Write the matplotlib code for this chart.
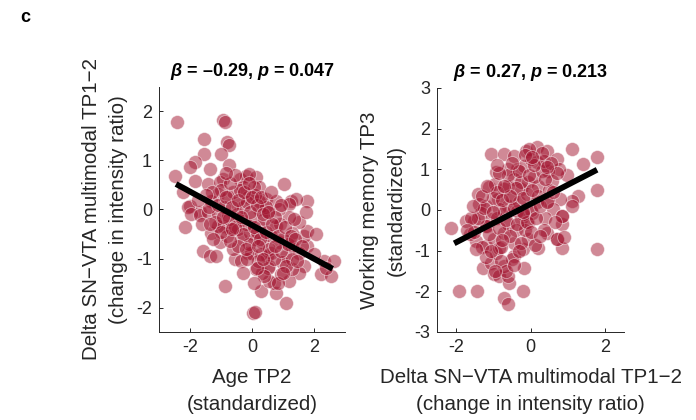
import matplotlib
matplotlib.use("Agg")
import matplotlib.pyplot as plt
import numpy as np

plt.rcParams['font.family'] = ['Liberation Sans', 'DejaVu Sans']
plt.rcParams['mathtext.fontset'] = 'custom'
plt.rcParams['mathtext.it'] = 'Liberation Sans:italic:bold'
plt.rcParams['mathtext.rm'] = 'Liberation Sans:bold'
plt.rcParams['mathtext.bf'] = 'Liberation Sans:bold'

# ---------------- Panel 1: Age TP2 vs Delta SN-VTA ----------------
age_x = [-2.42, -0.94, -0.88, -1.56, -0.81, -0.73, -1.56, -0.99, -1.83, -1.99,
         -1.36, -0.75, -2.49, -1.85, -0.94, -0.40, -0.18, -0.29, -1.42, -1.04,
         -2.23, -2.01, -1.69, -1.10, -0.77, -0.51, -0.13, -1.31,
         0.12, 0.23, 1.03, 1.78, 1.25, 1.41, -0.10, 0.44, 0.76, 1.19, 0.23,
         -2.06, -1.96, -2.17, -1.69, -1.58, -1.36, -1.04, -0.56, -0.88, 0.03,
         -1.31, -0.94, -0.35, -0.13, -0.72, -0.40, -1.42, -1.10, -0.77, -0.45,
         -0.07, -1.10,
         1.78, 2.32, 2.65, 2.22, 2.54, 2.38, 1.68, 1.52, 0.28, 0.76, 1.09, 0.11,
         0.71, 0.55, 1.19, 0.33, 0.93, 1.30, 0.12, -0.04, 0.49, 1.09, 1.52, 1.68,
         1.78, 1.52, 1.73, 1.19, 0.87, 0.55, 0.23, 0.76, 0.23, 1.30, 0.87, 0.33,
         1.30, 0.06, 0.60, 0.98, 0.55,
         -0.50, -0.30, -0.20, 0.00, 0.10, 0.40, -0.60, -0.90, -1.20, -0.80,
         0.30, 0.60, 0.90, -0.10, 0.20, 0.50, -0.35, -0.60, 1.00, 0.45,
         -1.00, -0.40, 0.05, -0.15, 0.75, 1.30, 1.10, 0.15, -0.75, -1.40,
         -1.30, -1.10, -0.95, -0.85, -0.70, -0.65, -0.55, -0.45, -0.30, -0.25,
         -0.05, 0.05, 0.15, 0.25, 0.35, 0.45, 0.55, 0.65, 0.70, 0.85,
         0.95, 1.05, 1.15, 1.25, 1.40, 1.45, 0.40, 0.15, -0.15, -0.45,
         -0.70, -1.00, -1.25, -1.60, -1.50, -1.75, -0.20, 0.00, 0.30, -0.55,
         -0.85, 0.60, 0.95, 1.35, 1.60, 2.00, 2.05, 0.85, 0.05, -0.30,
         1.00, -1.15, 0.50, -0.10, -0.35, 0.20, 0.75, -0.65, -1.35, 0.35]
delta_y = [1.79, 1.82, 1.78, 1.43, 1.38, 1.32, 1.14, 1.14, 0.97, 0.86,
           0.83, 0.90, 0.69, 0.59, 0.62, 0.62, 0.69, 0.45, 0.52, 0.56,
           0.35, 0.08, -0.06, 0.32, 0.25, 0.14, 0.25, 0.18,
           0.66, 0.45, 0.52, 0.18, 0.18, 0.21, 0.73, 0.21, 0.18, 0.11, 0.18,
           0.05, -0.09, -0.36, -0.12, -0.84, -0.95, -0.67, -1.01, -1.56, -2.11,
           -0.47, -0.33, -0.60, -0.88, -0.40, -0.19, -0.06, -0.09, -0.12, -0.40,
           -0.47, -0.33,
           -0.74, -1.05, -1.05, -1.32, -1.36, -1.19, -1.15, -1.29, -1.67, -1.70, -1.91, -2.09,
           -1.50, -1.46, -1.46, -1.29, -1.32, -1.22, -1.22, -0.88, -0.95, -0.95, -0.88, -0.54,
           -0.43, -0.26, -0.06, -0.16, 0.01, -0.06, 0.01, -0.33, -0.33, -0.47, -0.67, -0.67,
           -0.74, -0.60, -0.88, -1.08, -1.15,
           -0.10, 0.05, -0.30, -0.15, 0.30, -0.20, 0.35, 0.05, -0.25, -0.55,
           -0.90, -0.55, -0.30, -0.70, -1.05, -1.20, -1.05, -0.80, -0.60, 0.05,
           0.40, 0.40, 0.45, 0.15, -0.15, -1.00, -1.15, -0.45, -0.20, 0.05,
           0.35, 0.10, -0.15, 0.25, 0.55, 0.05, -0.35, 0.20, -0.50, 0.35,
           -0.05, -0.35, 0.10, -0.60, -0.10, -0.45, -0.80, -0.30, -1.00, -0.55,
           -0.85, -0.35, -0.70, -0.55, -0.60, -1.05, -1.35, -1.20, -1.00, -0.75,
           -0.65, -0.45, -0.60, -0.30, 0.30, 0.20, -0.80, 0.25, 0.25, 0.70,
           0.75, 0.35, 0.10, -0.20, -0.75, -0.90, -0.50, -1.50, -1.50, -1.30,
           -1.30, -0.95, -0.05, 0.55, -0.15, -0.75, -0.75, -0.40, -0.30, -1.00]
fit1_x = [-2.45, 2.60]
fit1_y = [0.52, -1.21]

# ---------------- Panel 2: Delta SN-VTA vs Working memory TP3 ----------------
dsn_x = [-1.06, -0.70, -0.92, -1.10, -1.41, -1.37, -1.19, -0.44, -0.35, -0.61,
         -0.12, -0.44, -0.70, -0.88, -0.17, -0.26, -0.61, -0.08,
         1.10, 1.77, 1.41, 0.97, 1.77, 1.28, 1.10, 0.17, -0.05, 0.43, 0.70, 0.75,
         0.48, 0.17, 0.57, 0.21, 0.79, 0.48, 0.17, 0.61,
         -2.13, -1.50, -1.73, -1.90, -1.43, -0.70, -0.61, -0.21, -1.28, -1.06,
         -0.97, -0.83, -0.57, -0.61, -0.17, -0.44, -0.21, -0.92, -1.46, -1.63,
         -1.19, -0.97, -0.70, -0.44, -0.08, -0.61, -0.26, -1.33, -1.06, -0.83,
         -0.35, -0.08, -1.15, -0.83, -0.70,
         1.77, 0.83, 0.70, 0.43, 0.83, 0.83, 0.21, 0.12, 0.39, 1.10, 0.04,
         0.71, 0.89, 0.84,
         -1.20, -0.90, -0.50, -0.30, -0.10, 0.10, -0.40, -0.80, -1.00, -0.60,
         0.30, 0.00, -0.20, 0.20, -1.30, -0.50, -0.25, -0.70, 0.00, 0.35,
         -0.15, -1.50, -0.95, 0.50,
         -1.40, -1.25, -1.10, -1.00, -0.90, -0.85, -0.75, -0.65, -0.60, -0.55,
         -0.45, -0.40, -0.35, -0.30, -0.25, -0.20, -0.10, -0.05, 0.05, 0.10,
         0.15, 0.25, 0.30, 0.40, 0.45, 0.55, 0.60, 0.65, 0.70, 0.35,
         -1.20, -1.05, -0.80, -0.65, -0.95, -0.45, -1.60, -1.55, -1.30, -0.85,
         -0.50, -0.15, 0.05, -0.75, -0.30, 0.00, -0.55, -1.15, -0.90, 0.25,
         -1.45, -1.70, -0.20, 0.45, -0.70]
wm_y = [1.38, 1.38, 0.93, 0.56, 0.39, 0.15, 0.11, 1.34, 1.01, 1.01,
        1.46, 0.76, 0.52, 0.27, 1.09, 0.52, 0.11, 0.68,
        1.50, 1.30, 1.13, 0.85, 0.48, 0.35, 0.23, 1.54, 1.50, 1.46, 1.26, 1.01,
        0.97, 1.17, 0.72, 0.60, 0.27, 0.23, 0.19, 0.02,
        -0.44, -0.27, -0.27, -2.00, -2.00, -2.16, -2.32, -2.00, -1.42, -1.30,
        -1.58, -1.63, -1.79, -1.63, -1.42, -1.13, -0.97, -1.05, -0.76, -0.60,
        -0.89, -0.72, -0.56, -0.80, -0.72, -0.35, -0.23, -0.07, -0.23, 0.02,
        -0.02, -0.31, -0.39, -0.93, -1.38,
        -0.97, -0.93, -0.72, -0.56, -0.35, -0.15, -0.93, -0.85, -0.19, 0.10, -0.07,
        -0.71, -0.67, -0.14,
        -0.40, -0.20, 0.30, 0.20, 0.40, 0.80, -0.50, -0.90, 0.30, 0.60,
        0.95, 0.00, -0.10, 0.35, -0.90, -1.20, 0.70, -0.05, 1.25, 1.20,
        -0.50, -0.55, 0.65, 0.50,
        -0.20, 0.05, -0.60, -0.05, 0.45, -0.45, 0.25, -0.25, 0.85, -0.65,
        0.05, 0.55, -0.35, 0.95, -0.80, 0.30, -0.30, 0.85, 0.50, 1.10,
        -0.20, 0.10, 1.40, 0.75, 0.20, 1.15, 0.45, -0.30, 0.90, -0.50,
        -1.15, -1.00, -1.25, -1.50, -1.50, -1.35, -0.20, 0.10, 0.35, 0.90,
        1.15, 1.35, 1.30, -0.75, -1.00, -0.55, 0.35, 0.60, 1.10, -0.65,
        -0.95, -0.50, -0.05, 1.05, 0.60]
fit2_x = [-2.04, 1.78]
fit2_y = [-0.82, 0.99]

titles = [r"$\beta$ = –0.29, $p$ = 0.047", r"$\beta$ = 0.27, $p$ = 0.213"]
xlabels = ["Age TP2\n(standardized)",
           "Delta SN\u2212VTA multimodal TP1\u22122\n(change in intensity ratio)"]
ylabels = ["Delta SN\u2212VTA multimodal TP1\u22122\n(change in intensity ratio)",
           "Working memory TP3\n(standardized)"]
xlims = [(-3, 3), (-2.5, 2.5)]
ylims = [(-2.5, 2.5), (-3, 3)]
xticks = [[-2, 0, 2], [-2, 0, 2]]
yticks = [[-2, -1, 0, 1, 2], [-3, -2, -1, 0, 1, 2, 3]]

W, H = 696, 420
fig = plt.figure(figsize=(W / 100, H / 100), dpi=100)
ax1 = fig.add_axes([159 / W, (H - 332) / H, 186 / W, 245 / H])
ax2 = fig.add_axes([437 / W, (H - 332) / H, 187 / W, 244 / H])

point_color = '#A2142F'
axis_color = '#262626'

data = [(age_x, delta_y, fit1_x, fit1_y), (dsn_x, wm_y, fit2_x, fit2_y)]
for i, ax in enumerate([ax1, ax2]):
    xs, ys, fx, fy = data[i]
    ax.scatter(xs, ys, s=100, color=point_color, alpha=0.5,
               edgecolors='white', linewidths=0.6, zorder=2)
    ax.plot(fx, fy, color='black', linewidth=4.2, solid_capstyle='butt', zorder=3)
    ax.set_xlim(*xlims[i])
    ax.set_ylim(*ylims[i])
    ax.set_xticks(xticks[i])
    ax.set_yticks(yticks[i])
    ax.set_xticklabels([str(t) for t in xticks[i]])
    ax.set_yticklabels([str(t) for t in yticks[i]])
    for side in ['top', 'right']:
        ax.spines[side].set_visible(False)
    for side in ['left', 'bottom']:
        ax.spines[side].set_color(axis_color)
        ax.spines[side].set_linewidth(0.7)
    ax.tick_params(direction='in', length=3, width=0.7, colors=axis_color,
                   labelsize=13, labelcolor=axis_color, pad=5)
    ax.set_xlabel(xlabels[i], fontsize=14.8, color=axis_color, labelpad=9,
                  linespacing=1.5)
    ax.set_ylabel(ylabels[i], fontsize=14.8, color=axis_color, labelpad=6,
                  linespacing=1.55)
    ax.set_title(titles[i], fontsize=13, fontweight='bold', pad=8)

fig.text(0.029, 0.948, 'c', fontsize=13, fontweight='bold')

fig.savefig('out.png', dpi=100)
